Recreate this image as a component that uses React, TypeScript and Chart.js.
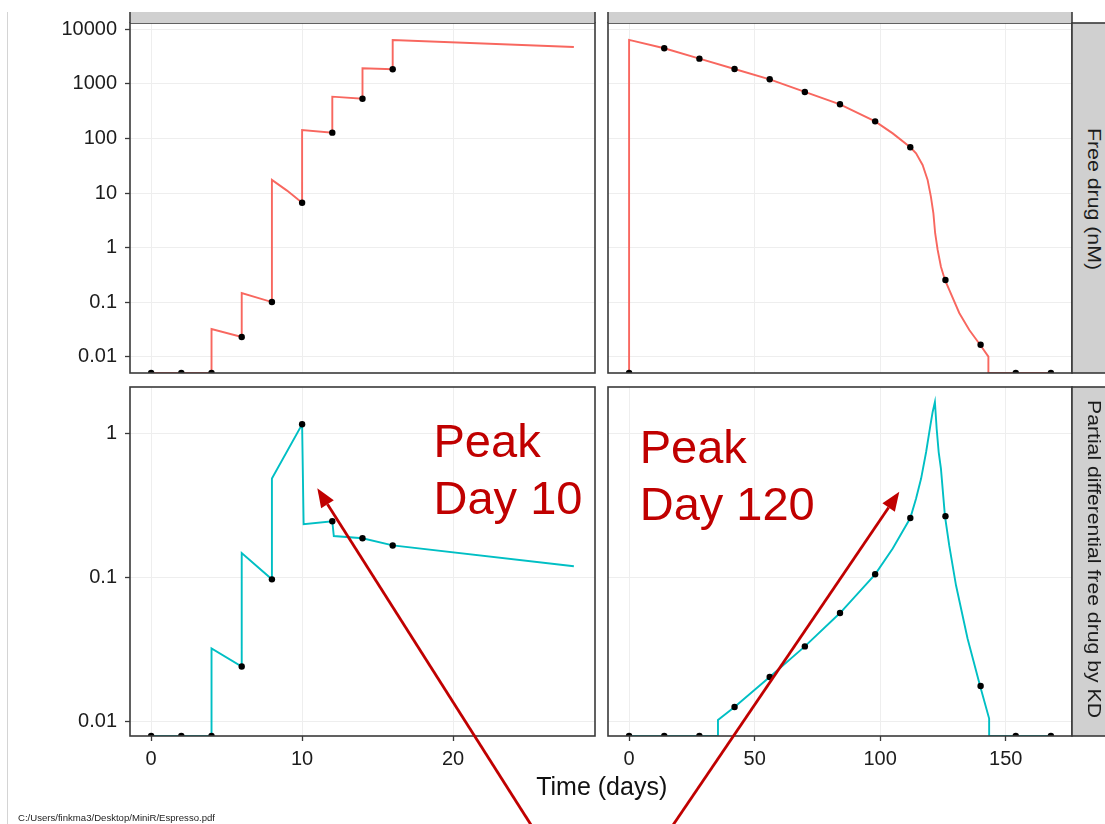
import React, { useEffect, useRef } from 'react';
import { Chart, registerables } from 'chart.js';

Chart.register(...registerables);
Chart.defaults.font.family = '"Liberation Sans", Arial, sans-serif';

// ---------- axis ranges / ticks ----------
const FREE_MIN = 0.00507;
const FREE_MAX = 13030;
const PD_MIN = 0.00791;
const PD_MAX = 2.085;

const freeTicks = [0.01, 0.1, 1, 10, 100, 1000, 10000];
const freeTickLabels = ['0.01', '0.1', '1', '10', '100', '1000', '10000'];
const pdTicks = [0.01, 0.1, 1];
const pdTickLabels = ['0.01', '0.1', '1'];
const shortDayTicks = [0, 10, 20];
const shortDayLabels = ['0', '10', '20'];
const longDayTicks = [0, 50, 100, 150];
const longDayLabels = ['0', '50', '100', '150'];

// ---------- sampling days (points) ----------
const shortSampleDays = [0, 2, 4, 6, 8, 10, 12, 14, 16];
const longSampleDays = [0, 14, 28, 42, 56, 70, 84, 98, 112, 126, 140, 154, 168];

// ---------- Free drug (nM), loading phase ----------
const freeShortPoints = [FREE_MIN, FREE_MIN, FREE_MIN, 0.0231, 0.101, 6.67, 128, 535, 1850];
const freeShortLineDays = [0, 4, 4, 6, 6, 8, 8, 9, 10, 10, 12, 12, 14, 14, 16, 16, 28];
const freeShortLineVals = [FREE_MIN, FREE_MIN, 0.0324, 0.0231, 0.148, 0.101, 17.4, 11.1, 6.67, 143, 128, 583, 535, 1931, 1850, 6370, 4740];

// ---------- Free drug (nM), washout phase ----------
const freeLongPoints = [FREE_MIN, 4490, 2895, 1875, 1214, 711, 423, 206, 69, 0.256, 0.0167, FREE_MIN, FREE_MIN];
const freeLongLineDays = [0, 0, 14, 28, 42, 56, 70, 84, 98, 105, 112, 114.3, 116.9, 118.9, 120.2, 121.2, 121.9, 122.9, 124.2, 125.8, 131.5, 135.5, 139.8, 143.1, 143.1, 168];
const freeLongLineVals = [FREE_MIN, 6400, 4490, 2895, 1875, 1214, 711, 423, 206, 124, 69, 53.6, 32.7, 17.4, 8.6, 4.26, 1.84, 0.908, 0.449, 0.256, 0.0637, 0.0311, 0.0167, 0.0101, FREE_MIN, FREE_MIN];

// ---------- Partial differential free drug by KD, loading phase ----------
const pdShortPoints = [PD_MIN, PD_MIN, PD_MIN, 0.024, 0.0966, 1.149, 0.244, 0.186, 0.166];
const pdShortLineDays = [0, 4, 4, 6, 6, 8, 8, 10, 10.1, 12, 12.1, 14, 16, 28];
const pdShortLineVals = [PD_MIN, PD_MIN, 0.032, 0.024, 0.147, 0.0966, 0.483, 1.149, 0.233, 0.244, 0.193, 0.186, 0.166, 0.119];

// ---------- Partial differential free drug by KD, washout phase ----------
const pdLongPoints = [PD_MIN, PD_MIN, PD_MIN, 0.01256, 0.0203, 0.0331, 0.0564, 0.1047, 0.257, 0.265, 0.0176, PD_MIN, PD_MIN];
const pdLongLineDays = [0, 35.4, 35.4, 42, 56, 70, 84, 98, 105, 112, 114.3, 116.3, 118.3, 120, 120.9, 121.8, 122.5, 123.3, 124.2, 125.8, 127.5, 130.2, 134.8, 139.8, 143.4, 143.4, 168];
const pdLongLineVals = [PD_MIN, PD_MIN, 0.0102, 0.01256, 0.0203, 0.0331, 0.0564, 0.1047, 0.158, 0.257, 0.351, 0.483, 0.738, 1.13, 1.4, 1.64, 1.07, 0.738, 0.566, 0.265, 0.166, 0.0878, 0.0375, 0.0176, 0.01045, PD_MIN, PD_MIN];

const RED = '#F8675F';
const CYAN = '#00BFC4';
const BORDER = '#3a3a3a';
const GRID = '#eeeeee';
const TEXT = '#1c1c1c';

const panelBorder = {
  id: 'panelBorder',
  afterDraw(chart: any) {
    const { ctx, chartArea: a } = chart;
    ctx.save();
    ctx.strokeStyle = BORDER;
    ctx.lineWidth = 1.6;
    ctx.strokeRect(a.left, a.top, a.right - a.left, a.bottom - a.top);
    ctx.restore();
  },
};

type PanelCfg = {
  lineDays: number[];
  lineVals: number[];
  ptDays: number[];
  ptVals: number[];
  color: string;
  xMin: number;
  xMax: number;
  xTicks: number[];
  xLabels: string[];
  yMin: number;
  yMax: number;
  yTicks: number[];
  yLabels: string[];
  showX: boolean;
  showY: boolean;
  padding: { left: number; right: number; top: number; bottom: number };
};

function makeConfig(c: PanelCfg): any {
  return {
    type: 'scatter',
    data: {
      datasets: [
        {
          data: c.ptDays.map((d, i) => ({ x: d, y: c.ptVals[i] })),
          showLine: false,
          pointRadius: 3.2,
          pointBorderWidth: 0,
          backgroundColor: '#000',
          borderColor: '#000',
          clip: 0,
          order: 0,
        },
        {
          data: c.lineDays.map((d, i) => ({ x: d, y: c.lineVals[i] })),
          showLine: true,
          pointRadius: 0,
          borderColor: c.color,
          backgroundColor: c.color,
          borderWidth: 1.9,
          tension: 0,
          fill: false,
          clip: 0,
          order: 1,
        },
      ],
    },
    options: {
      responsive: false,
      animation: false,
      devicePixelRatio: 1,
      events: [],
      layout: { padding: c.padding },
      plugins: { legend: { display: false }, tooltip: { enabled: false } },
      scales: {
        x: {
          type: 'linear',
          min: c.xMin,
          max: c.xMax,
          afterBuildTicks: (s: any) => {
            s.ticks = c.xTicks.map((v) => ({ value: v }));
          },
          afterFit: (s: any) => {
            s.height = c.showX ? 40 : 0;
            s.paddingLeft = 0;
            s.paddingRight = 0;
            s.paddingTop = 0;
            s.paddingBottom = 0;
          },
          border: { display: false },
          grid: {
            color: GRID,
            lineWidth: 1,
            drawTicks: c.showX,
            tickLength: 5,
            tickColor: BORDER,
            tickWidth: 1.3,
          },
          ticks: {
            display: c.showX,
            autoSkip: false,
            maxRotation: 0,
            padding: 6,
            color: TEXT,
            font: { size: 20 },
            callback: (_v: any, i: number) => c.xLabels[i],
          },
        },
        y: {
          type: 'logarithmic',
          min: c.yMin,
          max: c.yMax,
          afterBuildTicks: (s: any) => {
            s.ticks = c.yTicks.map((v) => ({ value: v }));
          },
          afterFit: (s: any) => {
            s.width = c.showY ? 130 : 0;
            s.paddingLeft = 0;
            s.paddingRight = 0;
            s.paddingTop = 0;
            s.paddingBottom = 0;
          },
          border: { display: false },
          grid: {
            color: GRID,
            lineWidth: 1,
            drawTicks: c.showY,
            tickLength: 5,
            tickColor: BORDER,
            tickWidth: 1.3,
          },
          ticks: {
            display: c.showY,
            autoSkip: false,
            padding: 8,
            color: TEXT,
            font: { size: 20 },
            callback: (_v: any, i: number) => c.yLabels[i],
          },
        },
      },
    },
    plugins: [panelBorder],
  };
}

function Panel(props: { left: number; top: number; width: number; height: number; cfg: PanelCfg }) {
  const ref = useRef<HTMLCanvasElement>(null);
  useEffect(() => {
    const chart = new Chart(ref.current as HTMLCanvasElement, makeConfig(props.cfg));
    return () => chart.destroy();
  }, []);
  return (
    <canvas
      ref={ref}
      width={props.width}
      height={props.height}
      style={{ position: 'absolute', left: props.left, top: props.top, width: props.width, height: props.height }}
    />
  );
}

function arrowHead(x1: number, y1: number, x2: number, y2: number, len: number, half: number) {
  const dx = x2 - x1;
  const dy = y2 - y1;
  const l = Math.hypot(dx, dy);
  const ux = dx / l;
  const uy = dy / l;
  const bx = x2 - ux * len;
  const by = y2 - uy * len;
  const nx = -uy;
  const ny = ux;
  return {
    base: [bx, by],
    pts: `${x2},${y2} ${bx + nx * half},${by + ny * half} ${bx - nx * half},${by - ny * half}`,
  };
}

function Arrow(p: { x1: number; y1: number; x2: number; y2: number }) {
  const h = arrowHead(p.x1, p.y1, p.x2, p.y2, 19, 7.5);
  return (
    <g>
      <line x1={p.x1} y1={p.y1} x2={h.base[0]} y2={h.base[1]} stroke="#C00000" strokeWidth={2.8} />
      <polygon points={h.pts} fill="#C00000" />
    </g>
  );
}

const shortX = { xMin: -1.4, xMax: 29.4, xTicks: shortDayTicks, xLabels: shortDayLabels };
const longX = { xMin: -8.4, xMax: 176.4, xTicks: longDayTicks, xLabels: longDayLabels };
const freeY = { yMin: FREE_MIN, yMax: FREE_MAX, yTicks: freeTicks, yLabels: freeTickLabels };
const pdY = { yMin: PD_MIN, yMax: PD_MAX, yTicks: pdTicks, yLabels: pdTickLabels };

export default function App() {
  const font = '"Liberation Sans", Arial, sans-serif';
  return (
    <div style={{ position: 'absolute', left: 0, top: 0, width: 1105, height: 824, background: '#fff', overflow: 'hidden' }}>
      <Panel
        left={0}
        top={0}
        width={600}
        height={380}
        cfg={{
          lineDays: freeShortLineDays, lineVals: freeShortLineVals, ptDays: shortSampleDays, ptVals: freeShortPoints,
          color: RED, ...shortX, ...freeY, showX: false, showY: true,
          padding: { left: 0, right: 5, top: 23, bottom: 7 },
        }}
      />
      <Panel
        left={600}
        top={0}
        width={505}
        height={380}
        cfg={{
          lineDays: freeLongLineDays, lineVals: freeLongLineVals, ptDays: longSampleDays, ptVals: freeLongPoints,
          color: RED, ...longX, ...freeY, showX: false, showY: false,
          padding: { left: 8, right: 33, top: 23, bottom: 7 },
        }}
      />
      <Panel
        left={0}
        top={380}
        width={600}
        height={444}
        cfg={{
          lineDays: pdShortLineDays, lineVals: pdShortLineVals, ptDays: shortSampleDays, ptVals: pdShortPoints,
          color: CYAN, ...shortX, ...pdY, showX: true, showY: true,
          padding: { left: 0, right: 5, top: 7, bottom: 48 },
        }}
      />
      <Panel
        left={600}
        top={380}
        width={505}
        height={444}
        cfg={{
          lineDays: pdLongLineDays, lineVals: pdLongLineVals, ptDays: longSampleDays, ptVals: pdLongPoints,
          color: CYAN, ...longX, ...pdY, showX: true, showY: false,
          padding: { left: 8, right: 33, top: 7, bottom: 48 },
        }}
      />
      <svg
        width={1105}
        height={824}
        style={{ position: 'absolute', left: 0, top: 0, pointerEvents: 'none', fontFamily: font }}
      >
        <line x1={7.5} y1={12} x2={7.5} y2={824} stroke="#d4d4d4" strokeWidth={1} />
        {/* top strips (cropped) */}
        <rect x={130} y={12} width={465} height={11} fill="#d0d0d0" />
        <rect x={608} y={12} width={464} height={11} fill="#d0d0d0" />
        <line x1={130} y1={12} x2={130} y2={23} stroke={BORDER} strokeWidth={1.6} />
        <line x1={595} y1={12} x2={595} y2={23} stroke={BORDER} strokeWidth={1.6} />
        <line x1={608} y1={12} x2={608} y2={23} stroke={BORDER} strokeWidth={1.6} />
        <line x1={1072} y1={12} x2={1072} y2={23} stroke={BORDER} strokeWidth={1.6} />
        {/* right strips */}
        <rect x={1072} y={23} width={40} height={350} fill="#d0d0d0" stroke={BORDER} strokeWidth={1.6} />
        <rect x={1072} y={387} width={40} height={349} fill="#d0d0d0" stroke={BORDER} strokeWidth={1.6} />
        <text
          transform="translate(1088,199) rotate(90)"
          textAnchor="middle"
          fontSize={18}
          fill={TEXT}
          textLength={142}
          lengthAdjust="spacingAndGlyphs"
        >
          Free drug (nM)
        </text>
        <text
          transform="translate(1088,559) rotate(90)"
          textAnchor="middle"
          fontSize={18}
          fill={TEXT}
          textLength={318}
          lengthAdjust="spacingAndGlyphs"
        >
          Partial differential free drug by KD
        </text>
        {/* axis title */}
        <text x={601.7} y={795} textAnchor="middle" fontSize={25} fill="#111">
          Time (days)
        </text>
        {/* annotations */}
        <text fontSize={47} fill="#C00000">
          <tspan x={433.5} y={457}>Peak</tspan>
          <tspan x={433.5} y={514}>Day 10</tspan>
        </text>
        <text fontSize={47} fill="#C00000">
          <tspan x={639.7} y={462.7}>Peak</tspan>
          <tspan x={639.7} y={520}>Day 120</tspan>
        </text>
        <Arrow x1={533} y1={828} x2={317.3} y2={488.3} />
        <Arrow x1={671} y1={828} x2={899.3} y2={491.7} />
        <text x={18} y={821} fontSize={9} fill="#222" textLength={197} lengthAdjust="spacingAndGlyphs">
          C:/Users/finkma3/Desktop/MiniR/Espresso.pdf
        </text>
      </svg>
    </div>
  );
}
